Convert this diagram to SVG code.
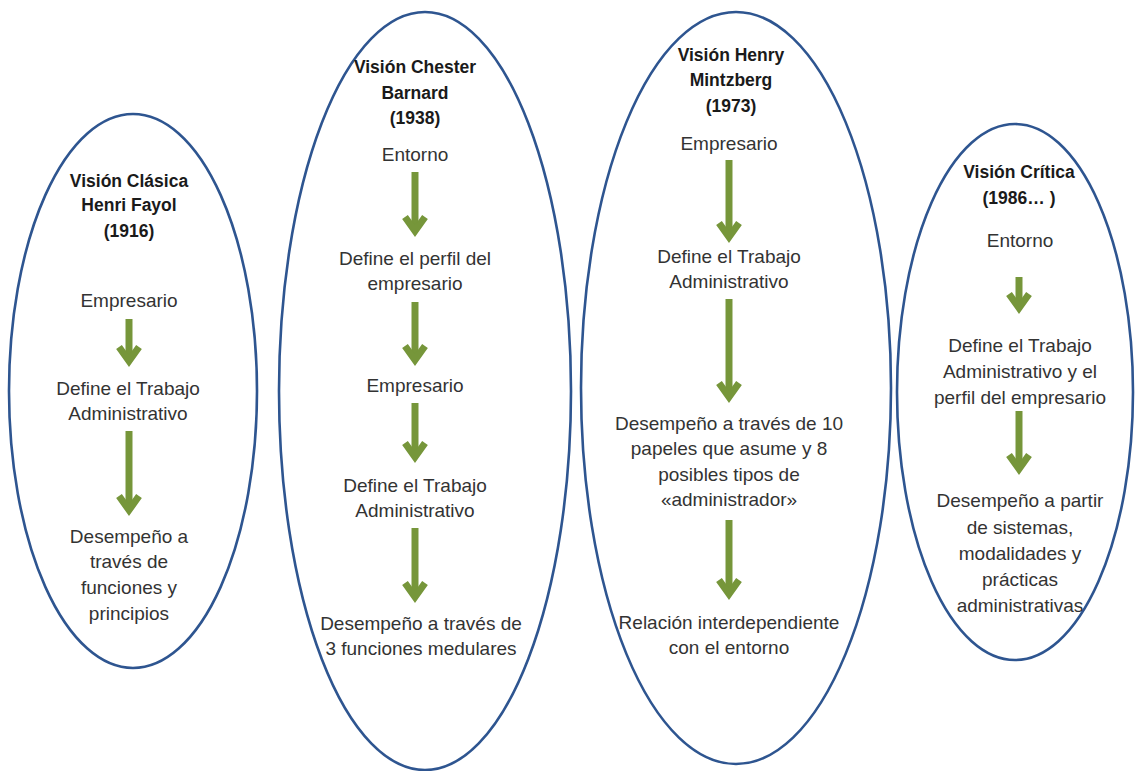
<svg xmlns="http://www.w3.org/2000/svg" width="1135" height="771" viewBox="0 0 1135 771">
  <style>
    .oval { fill: none; stroke: #2E5590; stroke-width: 2.6; }
    text { font-family: "Liberation Sans", Arial, sans-serif; font-size: 19px; fill: #333333; text-anchor: middle; }
    .title { font-weight: bold; font-size: 17.5px; fill: #1a1a1a; }
    .shaft { stroke: #76963A; stroke-width: 7; fill: none; }
    .head { stroke: #76963A; stroke-width: 7; fill: none; stroke-linejoin: miter; stroke-miterlimit: 10; }
  </style>
  <rect width="1135" height="771" fill="#ffffff"/>

  <!-- Fayol -->
  <g id="vision-clasica">
    <ellipse class="oval" cx="133" cy="391" rx="124" ry="277"/>
    <text class="title" x="129" y="187">Visión Clásica</text>
    <text class="title" x="129" y="211">Henri Fayol</text>
    <text class="title" x="129" y="237">(1916)</text>
    <text x="129" y="307">Empresario</text>
    <text x="128" y="395">Define el Trabajo</text>
    <text x="128" y="420">Administrativo</text>
    <text x="129" y="543">Desempeño a</text>
    <text x="129" y="568">través de</text>
    <text x="129" y="594">funciones y</text>
    <text x="129" y="620">principios</text>
  </g>

  <!-- Barnard -->
  <g id="vision-barnard">
    <ellipse class="oval" cx="425" cy="391" rx="146" ry="379"/>
    <text class="title" x="415" y="73">Visión Chester</text>
    <text class="title" x="415" y="99">Barnard</text>
    <text class="title" x="415" y="124">(1938)</text>
    <text x="415" y="161">Entorno</text>
    <text x="415" y="265">Define el perfil del</text>
    <text x="415" y="290">empresario</text>
    <text x="415" y="392">Empresario</text>
    <text x="415" y="492">Define el Trabajo</text>
    <text x="415" y="517">Administrativo</text>
    <text x="421" y="630">Desempeño a través de</text>
    <text x="421" y="655">3 funciones medulares</text>
  </g>

  <!-- Mintzberg -->
  <g id="vision-mintzberg">
    <ellipse class="oval" cx="736" cy="388" rx="155" ry="376"/>
    <text class="title" x="731" y="61">Visión Henry</text>
    <text class="title" x="731" y="86">Mintzberg</text>
    <text class="title" x="731" y="112">(1973)</text>
    <text x="729" y="150">Empresario</text>
    <text x="729" y="263">Define el Trabajo</text>
    <text x="729" y="288">Administrativo</text>
    <text x="729" y="430">Desempeño a través de 10</text>
    <text x="729" y="455">papeles que asume y 8</text>
    <text x="729" y="481">posibles tipos de</text>
    <text x="729" y="506">«administrador»</text>
    <text x="729" y="629">Relación interdependiente</text>
    <text x="729" y="654">con el entorno</text>
  </g>

  <!-- Critica -->
  <g id="vision-critica">
    <ellipse class="oval" cx="1015" cy="392" rx="118" ry="268"/>
    <text class="title" x="1019" y="178">Visión Crítica</text>
    <text class="title" x="1019" y="204">(1986… )</text>
    <text x="1020" y="247">Entorno</text>
    <text x="1020" y="352">Define el Trabajo</text>
    <text x="1020" y="378">Administrativo y el</text>
    <text x="1020" y="404">perfil del empresario</text>
    <text x="1020" y="507">Desempeño a partir</text>
    <text x="1020" y="534">de sistemas,</text>
    <text x="1020" y="560">modalidades y</text>
    <text x="1020" y="586">prácticas</text>
    <text x="1020" y="612">administrativas</text>
  </g>

  <!-- flow arrows: shaft plus chevron head (vertex = tip - 6) -->
  <g id="connectors">
    <path class="shaft" d="M129 319 V359"/>
    <path class="head" d="M119 347 L129 361 L139 347"/>
    <path class="shaft" d="M129 431 V508"/>
    <path class="head" d="M119 496 L129 510 L139 496"/>

    <path class="shaft" d="M415 172 V229"/>
    <path class="head" d="M405 217 L415 231 L425 217"/>
    <path class="shaft" d="M415 302 V358"/>
    <path class="head" d="M405 346 L415 360 L425 346"/>
    <path class="shaft" d="M415 403 V455"/>
    <path class="head" d="M405 443 L415 457 L425 443"/>
    <path class="shaft" d="M415 528 V595"/>
    <path class="head" d="M405 583 L415 597 L425 583"/>

    <path class="shaft" d="M729 160 V235"/>
    <path class="head" d="M719 223 L729 237 L739 223"/>
    <path class="shaft" d="M729 299 V395"/>
    <path class="head" d="M719 383 L729 397 L739 383"/>
    <path class="shaft" d="M729 520 V592"/>
    <path class="head" d="M719 580 L729 594 L739 580"/>

    <path class="shaft" d="M1019 277 V306"/>
    <path class="head" d="M1009 294 L1019 308 L1029 294"/>
    <path class="shaft" d="M1019 411 V467"/>
    <path class="head" d="M1009 455 L1019 469 L1029 455"/>
  </g>
</svg>
